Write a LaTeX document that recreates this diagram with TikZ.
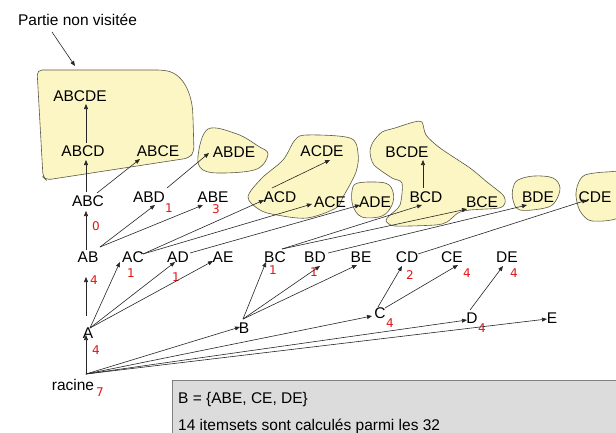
\documentclass[tikz,border=0pt]{standalone}
\usepackage{fontspec}
\setmainfont{Liberation Sans}
\newfontfamily\numfont{DejaVu Sans}
\usetikzlibrary{arrows.meta,calc}
\definecolor{blobfill}{RGB}{251,246,196}
\definecolor{blobline}{RGB}{90,90,70}
\definecolor{boxfill}{RGB}{220,220,220}
\definecolor{boxline}{RGB}{128,128,128}
\definecolor{numred}{RGB}{228,20,20}
\begin{document}
\begin{tikzpicture}[x=1pt,y=-1pt,
  lbl/.style={inner sep=0pt, font=\fontsize{15.5}{18}\selectfont},
  num/.style={inner sep=0pt, text=numred, font=\numfont\fontsize{12}{14}\selectfont},
  arr/.style={draw=black!85, line width=0.6pt, -{Triangle[length=5pt,width=4pt]}},
  blob/.style={fill=blobfill, draw=blobline, line width=0.6pt}]
\fill[white] (0,0) rectangle (616,432);
\clip (0,0) rectangle (616,432);
% blobs
\draw[blob, rounded corners=5pt] (37,70) -- (162,70) .. controls (184,74) and (192,95) .. (193,118) -- (194,152) -- (189,158) -- (46,180) -- (43,177) -- cycle;
\draw[blob] plot[smooth cycle, tension=0.6] coordinates {(208,129) (237,134) (258,146) (268,154) (257,169) (224,173) (203,170) (198,156)};
\draw[blob] plot[smooth cycle, tension=0.55] coordinates {(307,135) (350,138) (358,153) (356,172) (343,197) (336,208) (307,218) (277,215) (260,210) (248,197) (262,178) (283,160) (295,140)};
\draw[blob] plot[smooth cycle, tension=0.6] coordinates {(358,183) (385,183) (393,192) (392,205) (382,216) (362,217) (353,206) (352,191)};
\draw[blob] plot[smooth cycle, tension=0.45] coordinates {(373,142) (382,132) (395,128) (414,122) (422,122) (426,135) (440,148) (470,168) (487,182) (503,195) (505,203) (499,208) (470,210) (458,213) (447,222) (435,225) (395,226) (386,221) (389,216) (400,205) (402,183) (392,178) (374,165) (370,152)};
\draw[blob] plot[smooth cycle, tension=0.6] coordinates {(518,180) (534,176) (553,178) (560,188) (555,202) (545,208) (520,210) (513,200) (513,188)};
\draw[blob] plot[smooth cycle, tension=0.5] coordinates {(576,196) (578,184) (585,175) (607,172) (622,175) (622,215) (592,221) (580,211)};
% gray box
\draw[fill=boxfill, draw=boxline, line width=0.8pt] (172,380) rectangle (640,445);
\node[lbl, anchor=base west] (b1) at (178,403) {B = \{ABE, CE, DE\}};
\node[lbl, anchor=base west] (b2) at (178,430) {14 itemsets sont calculés parmi les 32};
% title
\node[lbl] (partie) at (77.5,20) {Partie non visitée};
\coordinate (blobtop) at (75,66);
\draw[arr] ($(partie)+(-25.5,12)$) -- (blobtop);
% nodes
\node[lbl] (racine) at (73,385) {racine};
\node[lbl] (A) at (88,333) {A};
\node[lbl] (B) at (244,328) {B};
\node[lbl] (C) at (380,313) {C};
\node[lbl] (D) at (472,318) {D};
\node[lbl] (E) at (552,318) {E};
\node[lbl] (AB) at (88,257) {AB};
\node[lbl] (AC) at (133,257) {AC};
\node[lbl] (AD) at (178,257) {AD};
\node[lbl] (AE) at (223,257) {AE};
\node[lbl] (BC) at (275,257) {BC};
\node[lbl] (BD) at (315,257) {BD};
\node[lbl] (BE) at (361,257) {BE};
\node[lbl] (CD) at (407,257) {CD};
\node[lbl] (CE) at (452,257) {CE};
\node[lbl] (DE) at (507,257) {DE};
\node[lbl] (ABC) at (88,201) {ABC};
\node[lbl] (ABD) at (149,197) {ABD};
\node[lbl] (ABE) at (213,197) {ABE};
\node[lbl] (ACD) at (280,197) {ACD};
\node[lbl] (ACE) at (330,202) {ACE};
\node[lbl] (ADE) at (375,202) {ADE};
\node[lbl] (BCD) at (426,197) {BCD};
\node[lbl] (BCE) at (482,202) {BCE};
\node[lbl] (BDE) at (538,197) {BDE};
\node[lbl] (CDE) at (595,197) {CDE};
\node[lbl] (ABCD) at (83,151) {ABCD};
\node[lbl] (ABCE) at (158,151) {ABCE};
\node[lbl] (ABDE) at (234,152) {ABDE};
\node[lbl] (ACDE) at (322,151) {ACDE};
\node[lbl] (BCDE) at (407,152) {BCDE};
\node[lbl] (ABCDE) at (80,96) {ABCDE};
% red numbers
\node[num] (n7) at (100,392) {7};
\node[num] (nA) at (96,350) {4};
\node[num] (nAB) at (94,280) {4};
\node[num] (nAC) at (131,273) {1};
\node[num] (nAD) at (176,277) {1};
\node[num] (nBC) at (273,270) {1};
\node[num] (nBD) at (314,272) {1};
\node[num] (nCD) at (410,275) {2};
\node[num] (nCE) at (467,273) {4};
\node[num] (nDE) at (514,273) {4};
\node[num] (nC) at (390,323) {4};
\node[num] (nD) at (482,328) {4};
\node[num] (nABC) at (96,226) {0};
\node[num] (nABD) at (169,208) {1};
\node[num] (nABE) at (216,209) {3};
% edges from racine
\draw[arr] ($(racine)+(13,-11)$) -- ($(A)+(-2,2)$);
\draw[arr] ($(racine)+(13,-11)$) -- ($(B)+(-4,-1)$);
\draw[arr] ($(racine)+(13,-11)$) -- ($(C)+(-8,3)$);
\draw[arr] ($(racine)+(13,-11)$) -- ($(D)+(-5,2)$);
\draw[arr] ($(racine)+(13,-11)$) -- ($(E)+(-5,1)$);
% from A
\draw[arr] ($(A)+(-2,-17)$) -- ($(AB)+(-2,20)$);
\draw[arr] ($(A)+(2,-5)$) -- ($(AC)+(-13,5)$);
\draw[arr] ($(A)+(2,-5)$) -- ($(AD)+(-3,5)$);
\draw[arr] ($(A)+(2,-5)$) -- ($(AE)+(-10,4)$);
% from B
\draw[arr] ($(B)+(-1,-9)$) -- ($(BC)+(-9,5)$);
\draw[arr] ($(B)+(-1,-9)$) -- ($(BD)+(5,9)$);
\draw[arr] ($(B)+(-1,-9)$) -- ($(BE)+(-4,8)$);
% from C, D
\draw[arr] ($(C)+(-2,-6)$) -- ($(CD)+(-5,9)$);
\draw[arr] ($(C)+(5,-5)$) -- ($(CE)+(6,8)$);
\draw[arr] ($(D)+(-2,-8)$) -- ($(DE)+(-4,9)$);
% second level
\draw[arr] ($(AB)+(-2,-7)$) -- ($(ABC)+(-2,10)$);
\draw[arr] ($(AB)+(12,-10)$) -- ($(ABD)+(6,8)$);
\draw[arr] ($(AB)+(12,-10)$) -- ($(ABE)+(-10,8)$);
\draw[arr] ($(AC)+(10,-3)$) -- ($(ACD)+(-16,3)$);
\draw[arr] ($(AC)+(10,-3)$) -- ($(ACE)+(-18,2)$);
\draw[arr] ($(AD)+(12,-4)$) -- ($(ADE)+(-15,3)$);
\draw[arr] ($(BC)+(7,-8)$) -- ($(BCD)+(-4,8)$);
\draw[arr] ($(BC)+(7,-8)$) -- ($(BCE)+(-15,7)$);
\draw[arr] ($(BD)+(13,-4)$) -- ($(BDE)+(-11,8)$);
\draw[arr] ($(CD)+(11,-3)$) -- ($(CDE)+(-8,3)$);
% third level
\draw[arr] ($(ABC)+(-2,-9)$) -- ($(ABCD)+(3,9)$);
\draw[arr] ($(ABC)+(9,-8)$) -- ($(ABCE)+(-18,8)$);
\draw[arr] ($(ABD)+(18,-9)$) -- ($(ABDE)+(-25,1)$);
\draw[arr] ($(ACD)+(-8,-9)$) -- ($(ACDE)+(8,9)$);
\draw[arr] ($(BCD)+(-3,-9)$) -- ($(BCDE)+(16,8)$);
\draw[arr] ($(ABCD)+(3,-8)$) -- ($(ABCDE)+(6,8)$);
\end{tikzpicture}
\end{document}
